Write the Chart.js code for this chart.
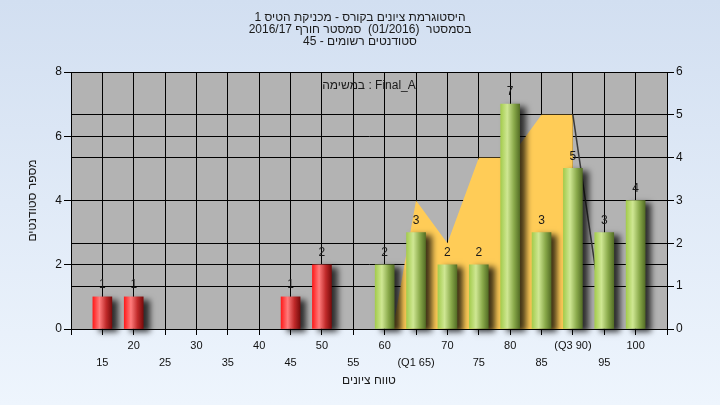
<!DOCTYPE html>
<html>
<head>
<meta charset="utf-8">
<script src="https://cdn.jsdelivr.net/npm/chart.js@4/dist/chart.umd.min.js"></script>
<style>
  html, body { margin: 0; padding: 0; }
  body { width: 720px; height: 405px; overflow: hidden; background: linear-gradient(#d2dff1, #eef5fd); }
</style>
</head>
<body>
<canvas id="gradesChart" width="720" height="405"></canvas>
<script>
// texts
const titleLines = [
  'היסטוגרמת ציונים בקורס - מכניקת הטיס 1',
  'בסמסטר  (01/2016)  סמסטר חורף 2016/17',
  'סטודנטים רשומים - 45'
];
const plotNote = 'במשימה : Final_A';
const xTitle = 'טווח ציונים';
const yTitle = 'מספר סטודנטים';

// histogram
const grades = [15, 20, 25, 30, 35, 40, 45, 50, 55, 60, 65, 70, 75, 80, 85, 90, 95, 100];
const gradeLabels = ['15', '20', '25', '30', '35', '40', '45', '50', '55', '60', '(Q1 65)', '70', '75', '80', '85', '(Q3 90)', '95', '100'];
const students = [1, 1, 0, 0, 0, 0, 1, 2, 0, 2, 3, 2, 2, 7, 3, 5, 3, 4];
const passGrade = 55;

// yellow band, right axis
const bandX = [61.3, 65, 70, 75, 80, 85, 90, 90];
const bandY = [0, 3, 2, 4, 4, 5, 5, 0];
const tailX = [90, 95];
const tailY = [5, 0];

const FONT = "'Liberation Sans', Arial, 'DejaVu Sans', sans-serif";

function barColor(c) {
  const fail = c.raw && c.raw.x < passGrade;
  if (c.type !== 'data' || !c.raw) return '#999';
  const cx = c.chart.scales.x ? c.chart.scales.x.getPixelForValue(c.raw.x) : NaN;
  if (!isFinite(cx)) return fail ? '#e02020' : '#9cc450';
  const g = c.chart.ctx.createLinearGradient(cx - 9.5, 0, cx + 9.5, 0);
  if (fail) {
    g.addColorStop(0, '#ff1c1c');
    g.addColorStop(0.35, '#ff7c7c');
    g.addColorStop(0.7, '#c02a2a');
    g.addColorStop(1, '#7a0c0c');
  } else {
    g.addColorStop(0, '#a4cc4e');
    g.addColorStop(0.35, '#cfe793');
    g.addColorStop(0.7, '#89a94a');
    g.addColorStop(1, '#556f26');
  }
  return g;
}

const plotBack = {
  id: 'plotBack',
  beforeDraw(chart) {
    const {ctx, chartArea: a} = chart;
    ctx.save();
    ctx.fillStyle = '#b3b3b3';
    ctx.fillRect(a.left, a.top, a.right - a.left, a.bottom - a.top);
    ctx.restore();
  }
};

const barShadow = {
  id: 'barShadow',
  beforeDatasetDraw(chart, args) {
    if (args.meta.type !== 'bar') return;
    const ctx = chart.ctx;
    ctx.save();
    ctx.shadowColor = 'rgba(0,0,0,0.75)';
    ctx.shadowBlur = 6;
    ctx.shadowOffsetX = 6;
    ctx.shadowOffsetY = 3;
  },
  afterDatasetDraw(chart, args) {
    if (args.meta.type !== 'bar') return;
    chart.ctx.restore();
  }
};

const extraText = {
  id: 'extraText',
  afterDraw(chart) {
    const {ctx, chartArea: a} = chart;
    const midX = (a.left + a.right) / 2;
    ctx.save();
    ctx.fillStyle = '#1a1a1a';
    ctx.font = '12px ' + FONT;
    ctx.textAlign = 'center';
    ctx.textBaseline = 'middle';
    // titles
    titleLines.forEach((line, i) => ctx.fillText(line, chart.width / 2, 18 + i * 12));
    // value labels on the bars
    const meta = chart.getDatasetMeta(0);
    meta.data.forEach((bar, i) => {
      if (students[i] > 0) ctx.fillText(String(students[i]), bar.x, bar.y - 12);
    });
    // note inside the plot
    ctx.fillText(plotNote, midX, a.top + 14);
    // x title
    ctx.fillText(xTitle, midX, a.bottom + 52);
    // y title
    ctx.translate(33, (a.top + a.bottom) / 2);
    ctx.rotate(-Math.PI / 2);
    ctx.fillText(yTitle, 0, 0);
    ctx.restore();
  }
};

const chart = new Chart(document.getElementById('gradesChart'), {
  type: 'bar',
  data: {
    datasets: [
      {
        type: 'bar',
        yAxisID: 'y',
        data: grades.map((g, i) => ({x: g, y: students[i] || null})),
        backgroundColor: barColor,
        borderWidth: 0,
        barThickness: 19,
        grouped: false,
        clip: false,
        order: 0
      },
      {
        type: 'line',
        yAxisID: 'y1',
        data: bandX.map((x, i) => ({x: x, y: bandY[i]})),
        fill: 'origin',
        backgroundColor: '#ffcc57',
        borderColor: 'transparent',
        borderWidth: 0,
        pointRadius: 0,
        tension: 0,
        order: 2
      },
      {
        type: 'line',
        yAxisID: 'y1',
        data: tailX.map((x, i) => ({x: x, y: tailY[i]})),
        fill: false,
        borderColor: '#3a3a3a',
        borderWidth: 1.5,
        pointRadius: 0,
        tension: 0,
        order: 1
      }
    ]
  },
  options: {
    responsive: false,
    animation: false,
    devicePixelRatio: 1,
    layout: { padding: { top: 72, left: 0, right: 0, bottom: 0 } },
    plugins: {
      legend: { display: false },
      tooltip: { enabled: false },
      title: { display: false }
    },
    scales: {
      x: {
        type: 'linear',
        min: 10,
        max: 105,
        offset: false,
        grid: { color: '#000', tickColor: '#000', tickLength: 6, offset: false },
        border: { color: '#000' },
        ticks: {
          stepSize: 5,
          autoSkip: false,
          maxRotation: 0,
          minRotation: 0,
          padding: 2,
          color: '#111',
          font: { family: FONT, size: 11, lineHeight: '17px' },
          callback: (v) => {
            const i = grades.indexOf(v);
            if (i < 0) return '';
            return v % 10 === 0 ? [gradeLabels[i]] : ['', gradeLabels[i]];
          }
        },
        afterFit: (s) => { s.height = 76; }
      },
      y: {
        position: 'left',
        min: 0,
        max: 8,
        grid: { color: '#000', tickColor: '#000', tickLength: 7 },
        border: { color: '#000' },
        ticks: { stepSize: 2, padding: 2, color: '#111', font: { family: FONT, size: 12 } },
        afterFit: (s) => { s.width = 71; }
      },
      y1: {
        position: 'right',
        min: 0,
        max: 6,
        grid: { color: '#000', tickColor: '#000', tickLength: 7 },
        border: { color: '#000' },
        ticks: { stepSize: 1, padding: 2, color: '#111', font: { family: FONT, size: 12 } },
        afterFit: (s) => { s.width = 53; }
      }
    }
  },
  plugins: [plotBack, barShadow, extraText]
});
// resolve the gradients again now that the scales are placed
chart.update();
</script>
</body>
</html>
